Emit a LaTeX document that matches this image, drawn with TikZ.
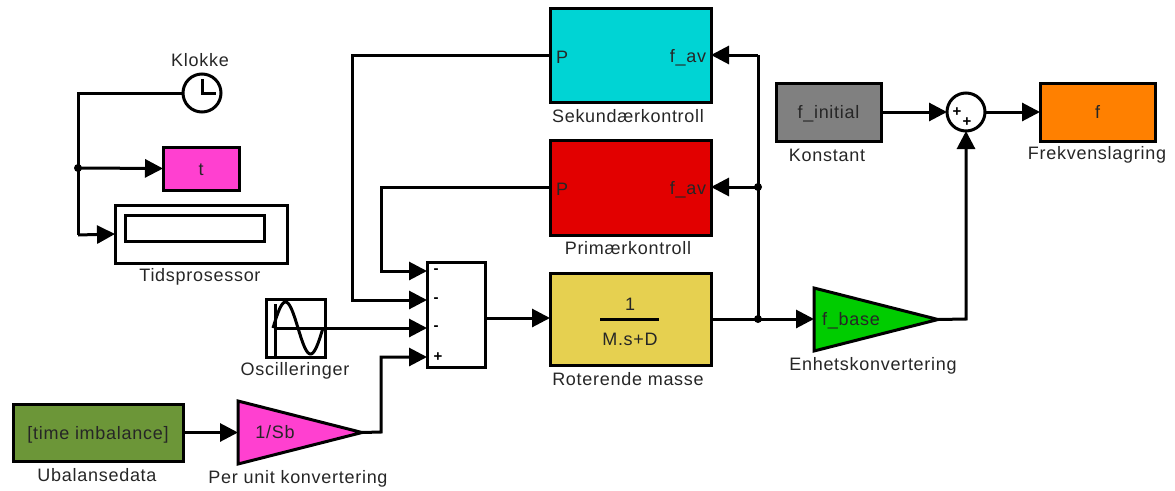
\documentclass[tikz,border=0pt]{standalone}
\usepackage{fontspec}
\setmainfont{Liberation Sans}
\usetikzlibrary{arrows.meta,positioning,shapes.geometric}
\definecolor{seccyan}{RGB}{0,212,212}
\definecolor{primred}{RGB}{226,0,0}
\definecolor{massyellow}{RGB}{230,208,80}
\definecolor{constgray}{RGB}{128,128,128}
\definecolor{storeorange}{RGB}{255,128,0}
\definecolor{basegreen}{RGB}{0,204,0}
\definecolor{pink}{RGB}{255,64,208}
\definecolor{dataolive}{RGB}{108,150,56}
\tikzset{
	txt/.style={font=\fontsize{18}{20}\selectfont\addfontfeature{LetterSpace=4},text=black!85},
	block/.style={shape=rectangle,draw,line width=3pt,inner sep=0pt,outer sep=0pt,txt,text height=13pt,text depth=0pt},
	gain/.style={shape=isosceles triangle,isosceles triangle stretches,shape border rotate=0,draw,line width=3pt,inner sep=0pt,outer sep=0pt},
	round block/.style={shape=circle,draw,line width=3pt,inner sep=0pt,outer sep=0pt,minimum size=38pt},
	cap label/.style={txt,inner sep=0pt},
	sign/.style={font=\fontsize{15}{16}\bfseries\selectfont,inner sep=0pt},
	wire/.style={line width=3pt,-{Triangle[length=18pt,width=18pt]}},
	plain wire/.style={line width=3pt},
	joint/.style={shape=circle,fill,inner sep=0pt,minimum size=8pt}
}
\begin{document}
\begin{tikzpicture}[x=1pt,y=-1pt]
	\useasboundingbox (0,0) rectangle (1175,490);
	\path (630.5,55) node (sec) [block,fill=seccyan,minimum width=161pt,minimum height=94pt] {}
		  (630.5,187.5) node (prim) [block,fill=primred,minimum width=161pt,minimum height=95pt] {}
		  (630.5,319) node (mass) [block,fill=massyellow,minimum width=161pt,minimum height=92pt] {}
		  (828.5,112) node (const) [block,fill=constgray,minimum width=105pt,minimum height=58pt] {f\_initial}
		  (1097.5,112) node (store) [block,fill=storeorange,minimum width=115pt,minimum height=58pt] {f}
		  (201,168.5) node (tview) [block,fill=pink,minimum width=76pt,minimum height=43pt] {t}
		  (201,234) node (timer) [block,minimum width=172pt,minimum height=58pt] {}
		  (194.5,228) node (timerin) [block,minimum width=139pt,minimum height=26pt] {}
		  (98,432.5) node (data) [block,fill=dataolive,minimum width=170pt,minimum height=57pt] {[time imbalance]}
		  (456,314.5) node (mux) [block,minimum width=58pt,minimum height=105pt] {}
		  (295.5,328) node (osc) [block,minimum width=59pt,minimum height=58pt] {}
		  (202,93) node (clock) [round block] {}
		  (966,112) node (add) [round block] {}
		  (238,432.5) node (pu) [gain,fill=pink,anchor=lower side,minimum width=63pt,minimum height=124pt] {}
		  (814,319.5) node (fb) [gain,fill=basegreen,anchor=lower side,minimum width=63pt,minimum height=124pt] {};
	\path (200,60) node (lclock) [cap label] {Klokke}
		  (200,277) node (ltimer) [cap label] {Tidsprosessor}
		  (295,371) node (losc) [cap label] {Oscilleringer}
		  (97,475) node (ldata) [cap label] {Ubalansedata}
		  (298,479) node (lpu) [cap label] {Per unit konvertering}
		  (628,379) node (lmass) [cap label] {Roterende masse}
		  (628,116) node (lsec) [cap label] {Sekundærkontroll}
		  (628,248) node (lprim) [cap label] {Primærkontroll}
		  (873,366) node (lfb) [cap label] {Enhetskonvertering}
		  (827,155) node (lconst) [cap label] {Konstant}
		  (1097,155) node (lstore) [cap label] {Frekvenslagring};
	\path (562,57) node (secp) [cap label] {P}
		  (688,58) node (secf) [cap label] {f\_av}
		  (562,189) node (primp) [cap label] {P}
		  (688,190) node (primf) [cap label] {f\_av}
		  (630,304) node (massn) [cap label] {1}
		  (630,339) node (massd) [cap label] {M.s+D}
		  (275,432) node (puval) [cap label] {1/Sb}
		  (851,321) node (fbval) [cap label] {f\_base}
		  (436,271) node (sgna) [sign] {-}
		  (436,300) node (sgnb) [sign] {-}
		  (436,328) node (sgnc) [sign] {-}
		  (438,357) node (sgnd) [sign] {+}
		  (957,112) node (adda) [sign] {+}
		  (967,122) node (addb) [sign] {+};
	\coordinate (ina) at (427,271);
	\coordinate (inb) at (427,300);
	\coordinate (inc) at (427,328);
	\coordinate (ind) at (427,357);
	\coordinate (outm) at (485,318);
	\coordinate (massin) at (550,318);
	\coordinate (massout) at (711,319);
	\coordinate (fbin) at (814,319);
	\coordinate (leftbus) at (78,93);
	\coordinate (primbend) at (381,187);
	\coordinate (secbend) at (352,55);
	\coordinate (pubend) at (381,432);
	\coordinate (fbbend) at (966,319);
	\coordinate (busa) at (78,168);
	\coordinate (busb) at (78,235);
	\coordinate (juna) at (758,319);
	\coordinate (junb) at (758,187);
	\coordinate (junc) at (758,55);
	\draw[plain wire] (clock.west) -- (leftbus) -- (busb);
	\draw[wire] (busa) -- (tview.west);
	\draw[wire] (busb) -- (timer.west);
	\draw[wire] (prim.west) -| (primbend |- ina) -- (ina);
	\draw[wire] (sec.west) -| (secbend |- inb) -- (inb);
	\draw[wire] (osc.east) -- (inc);
	\draw[wire] (data.east) -- (pu.lower side);
	\draw[wire] (pu.apex) -- (pubend) -- (pubend |- ind) -- (ind);
	\draw[wire] (outm) -- (massin);
	\draw[wire] (massout) -- (fbin);
	\draw[plain wire] (juna) -- (junc);
	\draw[wire] (junb) -- (prim.east |- junb);
	\draw[wire] (junc) -- (sec.east |- junc);
	\draw[wire] (fb.apex) -- (fbbend) -- (add.south);
	\draw[wire] (const.east) -- (add.west);
	\draw[wire] (add.east) -- (store.west);
	\path (busa) node (dota) [joint] {}
		  (juna) node (dotb) [joint] {}
		  (junb) node (dotc) [joint] {};
	\draw[line width=3pt] (600,319) -- (659,319);
	\draw[line width=3pt] (clock.center) ++(0,-14) -- (clock.center) -- ++(14,0);
	\draw[line width=3pt] (275,304) -- (275,357);
	\draw[line width=3pt] (275,328) -- (325,328);
	\draw[line width=3pt,smooth,domain=0:1,samples=40] plot ({273+50*\x},{328-26*sin(360*\x)});
\end{tikzpicture}
\end{document}
